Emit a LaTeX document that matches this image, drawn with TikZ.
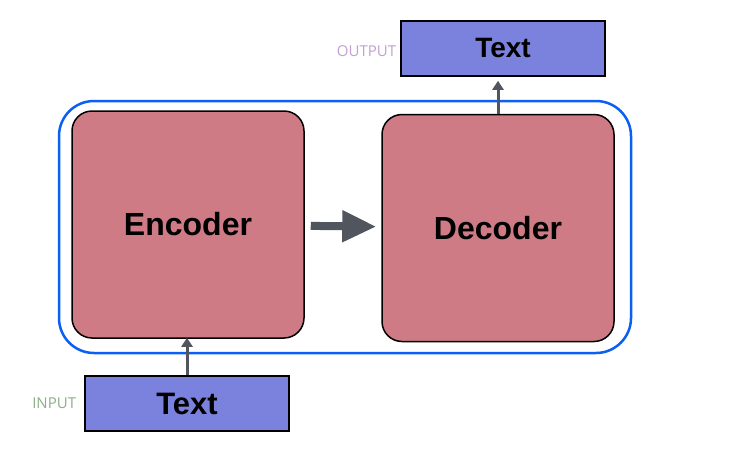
\documentclass[tikz,border=0pt]{standalone}
\usepackage{fontspec}
\setmainfont{Liberation Sans}
\newfontfamily\labelfont{Open Sans}
\usetikzlibrary{arrows.meta, positioning}

\definecolor{textblue}{HTML}{7B82DD}
\definecolor{blockred}{HTML}{CF7B86}
\definecolor{frameblue}{HTML}{0B5FF2}
\definecolor{arrowgray}{HTML}{50555E}
\definecolor{outlabel}{HTML}{C3A0D0}
\definecolor{inlabel}{HTML}{8EAE8A}

\tikzset{
  textbox/.style={draw=black, line width=1.5pt, fill=textblue, inner sep=0pt,
    minimum width=204pt, minimum height=55pt},
  block/.style={draw=black, line width=1.5pt, fill=blockred, rounded corners=20pt,
    inner sep=0pt, minimum width=232pt, minimum height=227pt,
    font=\bfseries\fontsize{32}{38}\selectfont},
  tag/.style={inner sep=0pt, font=\labelfont\fontsize{15}{17}\selectfont},
  feed/.style={draw=arrowgray, line width=3pt, -{Triangle[length=9pt,width=11pt]}},
}

\begin{document}
\begin{tikzpicture}[x=1pt, y=-1pt]
    \useasboundingbox (0,0) rectangle (754,458);
    \node[draw=frameblue, line width=2.5pt, rounded corners=35pt, minimum width=572pt,
      minimum height=252pt, inner sep=0pt] (model) at (345,227) {};
    \node[block] (enc) at (188,224.5) {Encoder};
    \node[block] (dec) at (498,228) {Decoder};
    \node[textbox, font=\bfseries\fontsize{28}{34}\selectfont] (out) at (503,48.5) {Text};
    \node[textbox, font=\bfseries\fontsize{31}{36}\selectfont] (inp) at (187,403.5) {Text};
    \node[tag, left=4pt of out, yshift=-3pt, text=outlabel] (outtag) {OUTPUT};
    \node[tag, left=8pt of inp, text=inlabel] (intag) {INPUT};
    \draw[arrowgray, line width=8pt, -{Triangle[length=34pt,width=30pt]},
      shorten <=6pt, shorten >=5pt] (enc) -- (dec);
    \draw[feed, shorten >=-1pt] (inp.north) -- (inp.north |- enc.south);
    \draw[feed, shorten >=4pt] (dec.north) -- (dec.north |- out.south);
\end{tikzpicture}
\end{document}
